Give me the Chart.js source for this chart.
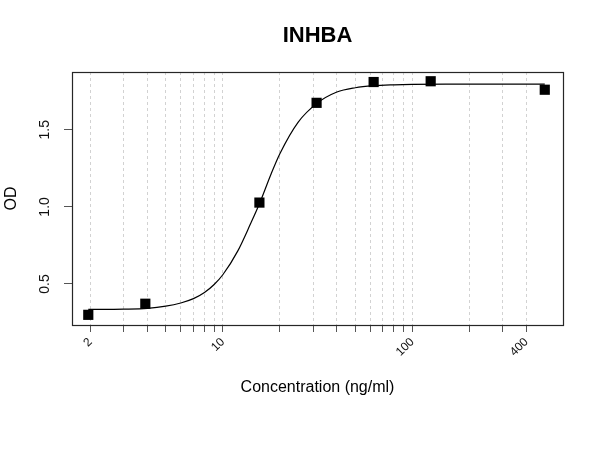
<!DOCTYPE html>
<html>
<head>
<meta charset="utf-8">
<script src="https://cdn.jsdelivr.net/npm/chart.js@4"></script>
<style>
  html, body { margin: 0; padding: 0; background: #fff; }
  #wrap { width: 600px; height: 450px; }
</style>
</head>
<body>
<div id="wrap"><canvas id="c" width="600" height="450"></canvas></div>
<script>
// ---- data ----
const chartTitle = "INHBA";
const xTitle = "Concentration (ng/ml)";
const yTitle = "OD";

const pointsX = [1.95, 3.9, 15.6, 31.25, 62.5, 125, 500];
const pointsY = [0.300, 0.372, 1.028, 1.675, 1.810, 1.815, 1.760];

// fitted curve
const curveX = [1.95, 3, 4, 5, 6, 7, 8, 9, 10, 12, 14, 15.6, 18, 20, 25, 31.25, 40, 50, 62.5, 80, 100, 150, 250, 500];
const curveY = [0.335, 0.337, 0.342, 0.356, 0.377, 0.405, 0.445, 0.497, 0.560, 0.715, 0.890, 1.020, 1.215, 1.345, 1.550, 1.670, 1.745, 1.773, 1.786, 1.792, 1.795, 1.797, 1.797, 1.797];

const xTicks = [2, 3, 4, 5, 6, 7, 8, 9, 10, 20, 30, 40, 50, 60, 70, 80, 90, 100, 200, 300, 400];
const xTickLabels = [2, 10, 100, 400];
const yTicks = [0.5, 1.0, 1.5];

const FONT = "'Liberation Sans', Arial, Helvetica, sans-serif";

const boxPlugin = {
  id: 'box',
  afterDraw(chart) {
    const a = chart.chartArea, ctx = chart.ctx;
    ctx.save();
    ctx.strokeStyle = '#262626';
    ctx.lineWidth = 1.2;
    ctx.strokeRect(Math.round(a.left) + 0.5, Math.round(a.top) + 0.5,
                   Math.round(a.right - a.left), Math.round(a.bottom - a.top));
    ctx.restore();
  }
};

new Chart(document.getElementById('c'), {
  type: 'scatter',
  data: {
    datasets: [
      {
        label: 'OD',
        data: pointsX.map((x, i) => ({x: x, y: pointsY[i]})),
        pointStyle: 'rect',
        pointRadius: 7.2,
        pointBackgroundColor: '#000',
        pointBorderColor: '#000',
        pointBorderWidth: 0,
        showLine: false
      },
      {
        label: 'fit',
        data: curveX.map((x, i) => ({x: x, y: curveY[i]})),
        showLine: true,
        borderColor: '#000',
        borderWidth: 1.2,
        pointRadius: 0,
        cubicInterpolationMode: 'monotone',
        fill: false
      }
    ]
  },
  options: {
    responsive: false,
    animation: false,
    devicePixelRatio: 1,
    layout: { padding: { left: 0, right: 37, top: 0, bottom: 0 } },
    plugins: {
      legend: { display: false },
      tooltip: { enabled: false },
      title: {
        display: true,
        text: chartTitle,
        fullSize: false,
        color: '#000',
        font: { family: FONT, size: 22, weight: 'bold', lineHeight: 1.2 },
        padding: { top: 23, bottom: 22.6 }
      }
    },
    scales: {
      x: {
        type: 'logarithmic',
        position: 'bottom',
        min: 1.6,
        max: 624,
        afterBuildTicks: (s) => { s.ticks = xTicks.map(v => ({value: v})); },
        afterFit: (s) => { s.height = 125; },
        ticks: {
          autoSkip: false,
          minRotation: 45,
          maxRotation: 45,
          color: '#111',
          padding: 3,
          font: { family: FONT, size: 12 },
          callback: (v) => xTickLabels.includes(v) ? String(v) : ''
        },
        grid: {
          display: true,
          drawOnChartArea: true,
          drawTicks: true,
          tickLength: 7,
          color: '#d2d2d2',
          lineWidth: 1,
          tickColor: '#555',
          tickWidth: 1,
          tickBorderDash: []
        },
        border: { display: false, dash: [3, 3] },
        title: {
          display: true,
          text: xTitle,
          color: '#000',
          font: { family: FONT, size: 16, lineHeight: 1.2 },
          padding: { top: 0, bottom: 53 }
        }
      },
      y: {
        type: 'linear',
        position: 'left',
        min: 0.234,
        max: 1.875,
        afterBuildTicks: (s) => { s.ticks = yTicks.map(v => ({value: v})); },
        afterFit: (s) => { s.width = 72; },
        ticks: {
          minRotation: 90,
          maxRotation: 90,
          crossAlign: 'center',
          color: '#111',
          padding: 9,
          font: { family: FONT, size: 14 },
          callback: (v) => Number(v).toFixed(1)
        },
        grid: {
          display: true,
          drawOnChartArea: false,
          drawTicks: true,
          tickLength: 8,
          tickColor: '#555',
          tickWidth: 1
        },
        border: { display: false },
        title: {
          display: true,
          text: yTitle,
          color: '#000',
          font: { family: FONT, size: 16, lineHeight: 1.2 },
          padding: { top: 1.5, bottom: 0 }
        }
      }
    }
  },
  plugins: [boxPlugin]
});
</script>
</body>
</html>
